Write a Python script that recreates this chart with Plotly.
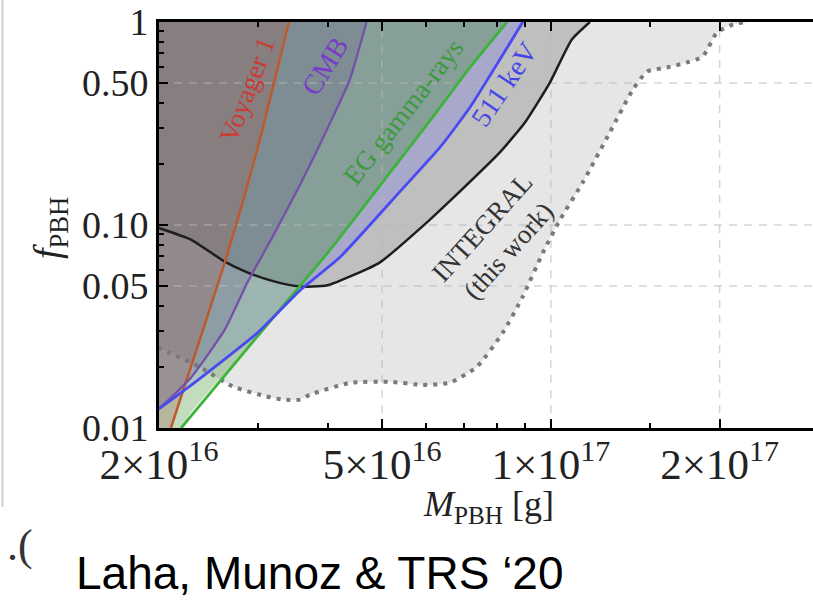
import math
import plotly.graph_objects as go

# ---------------- data ----------------
# Voyager 1
voy_m = [2.10e16, 2.28e16, 2.62e16, 2.82e16, 3.05e16, 3.41e16]
voy_f = [0.0100, 0.0200, 0.0653, 0.129, 0.286, 1.0]
# CMB
cmb_m = [1.99e16, 2.28e16, 2.62e16, 2.88e16, 3.22e16, 3.57e16, 3.82e16, 4.08e16, 4.38e16, 4.69e16]
cmb_f = [0.0123, 0.0177, 0.0305, 0.0525, 0.0920, 0.158, 0.230, 0.338, 0.521, 1.0]
# EG gamma-rays
eg_m = [2.19e16, 2.90e16, 4.00e16, 6.34e16, 7.17e16, 8.35e16]
eg_f = [0.0100, 0.0254, 0.0731, 0.379, 0.597, 1.0]
# 511 keV
kev_m = [1.99e16, 2.28e16, 3.00e16, 3.58e16, 4.20e16, 5.38e16, 6.34e16, 7.17e16, 8.91e16]
kev_f = [0.0123, 0.0162, 0.0295, 0.0480, 0.0691, 0.146, 0.241, 0.379, 1.0]
# INTEGRAL (previous, solid black)
blk_m = [1.99e16, 2.28e16, 2.62e16, 2.88e16, 3.22e16, 3.54e16, 3.84e16, 4.03e16,
         4.95e16, 6.08e16, 6.60e16, 8.11e16, 8.99e16, 9.96e16, 1.090e17, 1.174e17]
blk_f = [0.097, 0.0848, 0.0660, 0.0583, 0.0526, 0.0499, 0.0499, 0.0508,
         0.0653, 0.106, 0.131, 0.228, 0.320, 0.503, 0.820, 1.0]
# INTEGRAL (this work, dotted)
dot_m = [1.99e16, 2.36e16, 2.71e16, 3.11e16, 3.33e16, 3.57e16, 3.72e16, 4.38e16, 5.16e16,
         5.91e16, 6.60e16, 7.38e16, 8.21e16, 8.91e16, 9.68e16, 1.038e17, 1.140e17, 1.274e17,
         1.401e17, 1.484e17, 1.611e17, 1.749e17, 1.867e17, 1.978e17, 2.113e17, 2.238e17]
dot_f = [0.0249, 0.0200, 0.0160, 0.0143, 0.0138, 0.0138, 0.0146, 0.0167, 0.0169,
         0.0163, 0.0167, 0.0200, 0.0295, 0.0444, 0.0731, 0.106, 0.162, 0.286,
         0.465, 0.570, 0.597, 0.632, 0.676, 0.888, 0.972, 1.0]

x_ticks = [2e16, 5e16, 1e17, 2e17]
x_ticktext = ["2×10<sup>16</sup>", "5×10<sup>16</sup>", "1×10<sup>17</sup>", "2×10<sup>17</sup>"]
x_minor = [3e16, 4e16, 6e16, 7e16, 8e16, 9e16, 1.5e17]
y_ticks = [0.01, 0.05, 0.10, 0.50, 1.0]
y_ticktext = ["0.01", "0.05", "0.10", "0.50", "1"]
y_minor = [0.02, 0.03, 0.04, 0.06, 0.07, 0.08, 0.09, 0.2, 0.3, 0.4, 0.6, 0.7, 0.8, 0.9]
x_grid = [5e16, 1e17, 2e17]
y_grid = [0.05, 0.1, 0.5]

X_MIN, X_MAX = 2e16, 2.935e17
Y_MIN, Y_MAX = 0.01, 1.0

# ---------------- layout geometry ----------------
W, H = 813, 607
ML, MR, MT, MB = 159, 0, 22, 179


def paper(px, py):
    return (px - ML) / (W - ML - MR), (H - MB - py) / (H - MT - MB)


SERIF = "Liberation Serif, Times New Roman, serif"

fig = go.Figure()

FAR_L, FAR_TOP, FAR_BOT = 1e16, 2.0, 0.005


def region_above(m, f, color, left_low=False):
    if left_low:
        xs = [FAR_L, m[0]] + m + [m[-1], FAR_L]
        ys = [FAR_BOT, FAR_BOT] + f + [FAR_TOP, FAR_TOP]
    else:
        xs = [FAR_L] + m + [m[-1], FAR_L]
        ys = [f[0]] + f + [FAR_TOP, FAR_TOP]
    fig.add_trace(go.Scatter(x=xs, y=ys, mode="lines", fill="toself", fillcolor=color,
                             line=dict(width=0, shape="spline", smoothing=0.5),
                             hoverinfo="skip", showlegend=False))


# fills (lightest first)
region_above(dot_m, dot_f, "rgb(230,230,230)")
region_above(blk_m, blk_f, "rgba(0,0,0,0.17)")
region_above(kev_m, kev_f, "rgba(80,80,255,0.20)", left_low=True)
region_above(eg_m, eg_f, "rgba(56,139,41,0.30)", left_low=True)
region_above(cmb_m, cmb_f, "rgba(95,85,130,0.24)", left_low=True)
region_above(voy_m, voy_f, "rgba(155,92,82,0.30)", left_low=True)

# grid lines drawn above the fills
for xv in x_grid:
    fig.add_trace(go.Scatter(x=[xv, xv], y=[Y_MIN, Y_MAX], mode="lines",
                             line=dict(color="rgba(185,185,185,0.6)", width=1.5, dash="8px,7px"),
                             hoverinfo="skip", showlegend=False))
for yv in y_grid:
    fig.add_trace(go.Scatter(x=[X_MIN, X_MAX], y=[yv, yv], mode="lines",
                             line=dict(color="rgba(185,185,185,0.6)", width=1.5, dash="8px,7px"),
                             hoverinfo="skip", showlegend=False))


# curves
def curve(m, f, color, width=2.5, dash=None):
    fig.add_trace(go.Scatter(x=m, y=f, mode="lines",
                             line=dict(color=color, width=width, dash=dash, shape="spline", smoothing=0.5),
                             hoverinfo="skip", showlegend=False))


curve(dot_m, dot_f, "#7a7a7a", width=4, dash="4px,6px")
curve(blk_m, blk_f, "#1e1e1e", width=2.5)
curve(voy_m, voy_f, "#bd5a2c", width=2.5)
curve(cmb_m, cmb_f, "#7650a8", width=2.3)
curve(eg_m, eg_f, "#3cb43a", width=2.8)
curve(kev_m, kev_f, "#4a4af2", width=2.8)


# in-plot labels (data coordinates, log10 for log axes)
def label(text, mx, fy, angle, color, size):
    fig.add_annotation(x=math.log10(mx), y=math.log10(fy), xref="x", yref="y", text=text,
                       textangle=angle, showarrow=False, xanchor="center", yanchor="middle",
                       font=dict(family=SERIF, size=size, color=color))


label("Voyager 1", 2.87e16, 0.465, -69, "#cc3a34", 27)
label("CMB", 3.95e16, 0.604, -58, "#7a3cc8", 28)
label("EG gamma-rays", 5.45e16, 0.362, -52, "#3c9a3c", 27)
label("511 keV", 8.25e16, 0.492, -56, "#4646e6", 28)
label("INTEGRAL<br>(this work)", 7.95e16, 0.0848, -48, "#333333", 27)


def text_at(px, py, text, size, family, color, angle=0):
    xp, yp = paper(px, py)
    fig.add_annotation(x=xp, y=yp, xref="paper", yref="paper", text=text, textangle=angle,
                       showarrow=False, xanchor="center", yanchor="middle",
                       font=dict(family=family, size=size, color=color))


# axis titles and extra text
text_at(50, 228, "<i>f</i><sub>PBH</sub>", 38, SERIF, "#222", angle=-90)
text_at(488, 507, "<i>M</i><sub>PBH</sub> [g]", 36, SERIF, "#222")
text_at(320, 573, "Laha, Munoz &amp; TRS ‘20", 46, "Liberation Sans, Arial, sans-serif", "black")
text_at(20, 545, ".(", 44, SERIF, "#333")

x0p, _ = paper(2.5, 0)
_, y0p = paper(0, 507)
_, y1p = paper(0, 0)
fig.add_shape(type="line", xref="paper", yref="paper", x0=x0p, x1=x0p, y0=y0p, y1=y1p,
              line=dict(color="#cfcfcf", width=2))

fig.update_layout(
    width=W, height=H,
    margin=dict(l=ML, r=MR, t=MT, b=MB, pad=0),
    paper_bgcolor="white", plot_bgcolor="white",
    showlegend=False,
    xaxis=dict(type="log", range=[math.log10(X_MIN), math.log10(X_MAX)],
               showgrid=False, zeroline=False, showline=True, linecolor="black", linewidth=3,
               mirror="ticks", ticks="inside", ticklen=9, tickwidth=2, tickcolor="black",
               tickvals=x_ticks, ticktext=x_ticktext, ticklabelstandoff=-4,
               tickfont=dict(family=SERIF, size=43, color="#222"),
               minor=dict(tickvals=x_minor, ticks="inside", ticklen=5, tickwidth=1.5,
                          tickcolor="black", showgrid=False)),
    yaxis=dict(type="log", range=[math.log10(Y_MIN), math.log10(Y_MAX)],
               showgrid=False, zeroline=False, showline=True, linecolor="black", linewidth=3,
               mirror=False, ticks="inside", ticklen=9, tickwidth=2, tickcolor="black",
               tickvals=y_ticks, ticktext=y_ticktext,
               tickfont=dict(family=SERIF, size=38, color="#222"),
               minor=dict(tickvals=y_minor, ticks="inside", ticklen=5, tickwidth=1.5,
                          tickcolor="black", showgrid=False)),
)

fig.write_html("out.html")
